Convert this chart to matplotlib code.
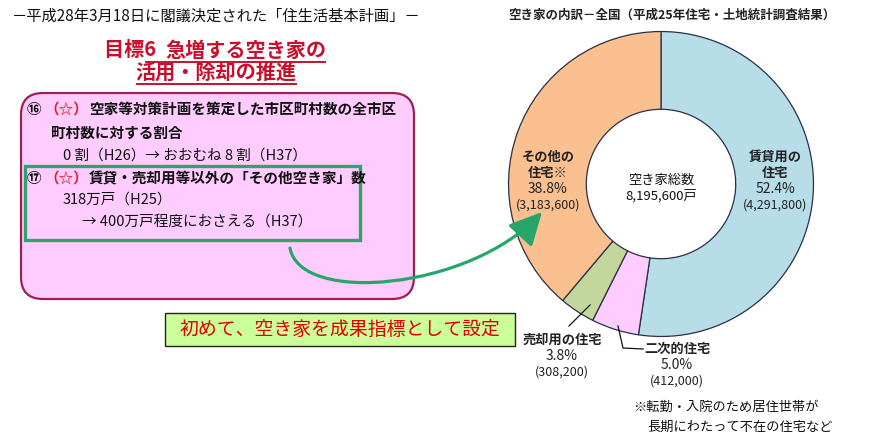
import matplotlib
matplotlib.use("Agg")
import matplotlib.pyplot as plt
from matplotlib.patches import FancyBboxPatch, Rectangle, FancyArrowPatch
from matplotlib.path import Path

plt.rcParams['font.family'] = ['Noto Sans CJK JP', 'DejaVu Sans']

# ---- data ----
categories = ['賃貸用の住宅', '二次的住宅', '売却用の住宅', 'その他の住宅※']
values = [4291800, 412000, 308200, 3183600]
percents = [52.4, 5.0, 3.8, 38.8]
total_label = '空き家総数'
total_value = 8195600
colors = ['#b7dde8', '#ffccff', '#c3d69b', '#fac090']

page_title = '－平成28年3月18日に閣議決定された「住生活基本計画」－'
chart_title = '空き家の内訳－全国（平成25年住宅・土地統計調査結果）'
goal_line1 = ('目標6  ', '急増する空き家の')
goal_line2 = '活用・除却の推進'
item16 = [('⑯ ', 'k'), ('（☆）', 'red'), ('空家等対策計画を策定した市区町村数の全市区', 'k')]
item16b = '町村数に対する割合'
item16c = '0 割（H26）→ おおむね 8 割（H37）'
item17 = [('⑰ ', 'k'), ('（☆）', 'red'), ('賃貸・売却用等以外の「その他空き家」数', 'k')]
item17b = '318万戸（H25）'
item17c = '→ 400万戸程度におさえる（H37）'
banner = '初めて、空き家を成果指標として設定'
note_lines = ['※転勤・入院のため居住世帯が', '長期にわたって不在の住宅など']

W, H = 870, 444
fig = plt.figure(figsize=(W / 100, H / 100), dpi=100)

# ---- donut ----
cx, cy, R = 661, 184, 154
pax = fig.add_axes([(cx - R) / W, 1 - (cy + R) / H, 2 * R / W, 2 * R / H])
pax.pie(values, colors=colors, startangle=90, counterclock=False, radius=1.0,
        wedgeprops=dict(width=0.51, edgecolor='#2b2f45', linewidth=0.9))
pax.set_xlim(-1.01, 1.01)
pax.set_ylim(-1.01, 1.01)
pax.set_aspect('equal')
pax.axis('off')

# ---- overlay in pixel coordinates ----
ax = fig.add_axes([0, 0, 1, 1])
ax.set_xlim(0, W)
ax.set_ylim(H, 0)
ax.axis('off')
ax.patch.set_alpha(0)

ax.text(12, 16, page_title, fontsize=11, va='center', ha='left', color='#111111')
ax.text(508, 15, chart_title, fontsize=9, fontweight='bold', va='center', ha='left', color='#222222')

red_head = '#c8102e'
t1 = ax.text(104, 50, goal_line1[0], fontsize=14.5, fontweight='bold', color=red_head, va='center', ha='left')
t1b = ax.annotate(goal_line1[1], xy=(1, 0.5), xycoords=t1, fontsize=14.5, fontweight='bold',
                  color=red_head, va='center', ha='left')
ax.plot([146, 325], [62, 62], color=red_head, lw=1.4)
ax.text(216, 72, goal_line2, fontsize=14.5, fontweight='bold', color=red_head, va='center', ha='center')
ax.plot([137, 296], [84, 84], color=red_head, lw=1.4)

# pink box
ax.add_patch(FancyBboxPatch((21, 93), 393, 206, boxstyle='round,pad=0,rounding_size=22',
                            facecolor='#ffccff', edgecolor='#9e1f4f', linewidth=1.6, zorder=1))
# green box
ax.add_patch(Rectangle((25, 166), 335, 74, facecolor='none', edgecolor='#2ea36d', linewidth=2.4, zorder=2))


def runs(x, y, parts, size=10.5, weight='bold'):
    prev = None
    for s, c in parts:
        col = '#e8191c' if c == 'red' else '#111111'
        if prev is None:
            prev = ax.text(x, y, s, fontsize=size, fontweight=weight, color=col, va='center', ha='left', zorder=3)
        else:
            prev = ax.annotate(s, xy=(1, 0.5), xycoords=prev, fontsize=size, fontweight=weight,
                               color=col, va='center', ha='left', zorder=3)


runs(27, 109, item16)
ax.text(51, 133, item16b, fontsize=10.5, fontweight='bold', va='center', ha='left', color='#111111', zorder=3)
ax.text(63, 156, item16c, fontsize=10.5, va='center', ha='left', color='#111111', zorder=3)
runs(27, 178, item17)
ax.text(63, 200, item17b, fontsize=10.5, va='center', ha='left', color='#111111', zorder=3)
ax.text(82, 222, item17c, fontsize=10.5, va='center', ha='left', color='#111111', zorder=3)

# banner
ax.add_patch(Rectangle((165, 313), 350, 33, facecolor='#ccff99', edgecolor='#222222', linewidth=1.0, zorder=2))
ax.text(340, 329.5, banner, fontsize=13.6, color='#e00000', va='center', ha='center', zorder=3)

# curved arrow
path = Path([(290, 248), (300, 305), (470, 290), (542, 212)],
            [Path.MOVETO, Path.CURVE4, Path.CURVE4, Path.CURVE4])
arrow = FancyArrowPatch(path=path, arrowstyle='-|>,head_length=1.0,head_width=0.5',
                        mutation_scale=20, color='#27a56a', linewidth=2.3, zorder=5)
ax.add_patch(arrow)

# donut labels
ax.text(cx, 180, total_label, fontsize=9.5, va='center', ha='center', color='#111111')
ax.text(cx, 196, f'{total_value:,}戸', fontsize=9.5, va='center', ha='center', color='#111111')


def seg_label(x, y, name_lines, pct, val):
    yy = y
    for nl in name_lines:
        ax.text(x, yy, nl, fontsize=9.5, fontweight='bold', va='center', ha='center', color='#222222', zorder=4)
        yy += 16
    ax.text(x, yy, f'{pct:.1f}%', fontsize=10, va='center', ha='center', color='#222222', zorder=4)
    yy += 16
    ax.text(x, yy, f'({val:,})', fontsize=9, va='center', ha='center', color='#222222', zorder=4)


seg_label(775, 157, ['賃貸用の', '住宅'], percents[0], values[0])
seg_label(548, 157, ['その他の', '住宅※'], percents[3], values[3])
seg_label(562, 340, ['売却用の住宅'], percents[2], values[2])
seg_label(677, 349, ['二次的住宅'], percents[1], values[1])

# leader lines
ax.plot([590, 569], [305, 326], color='#111111', lw=0.9, zorder=4)
ax.plot([618, 623, 643], [326, 348, 349], color='#111111', lw=0.9, zorder=4)

ax.text(633, 407, note_lines[0], fontsize=9.5, va='center', ha='left', color='#111111')
ax.text(647, 427, note_lines[1], fontsize=9.5, va='center', ha='left', color='#111111')

fig.savefig('out.png', dpi=100)
